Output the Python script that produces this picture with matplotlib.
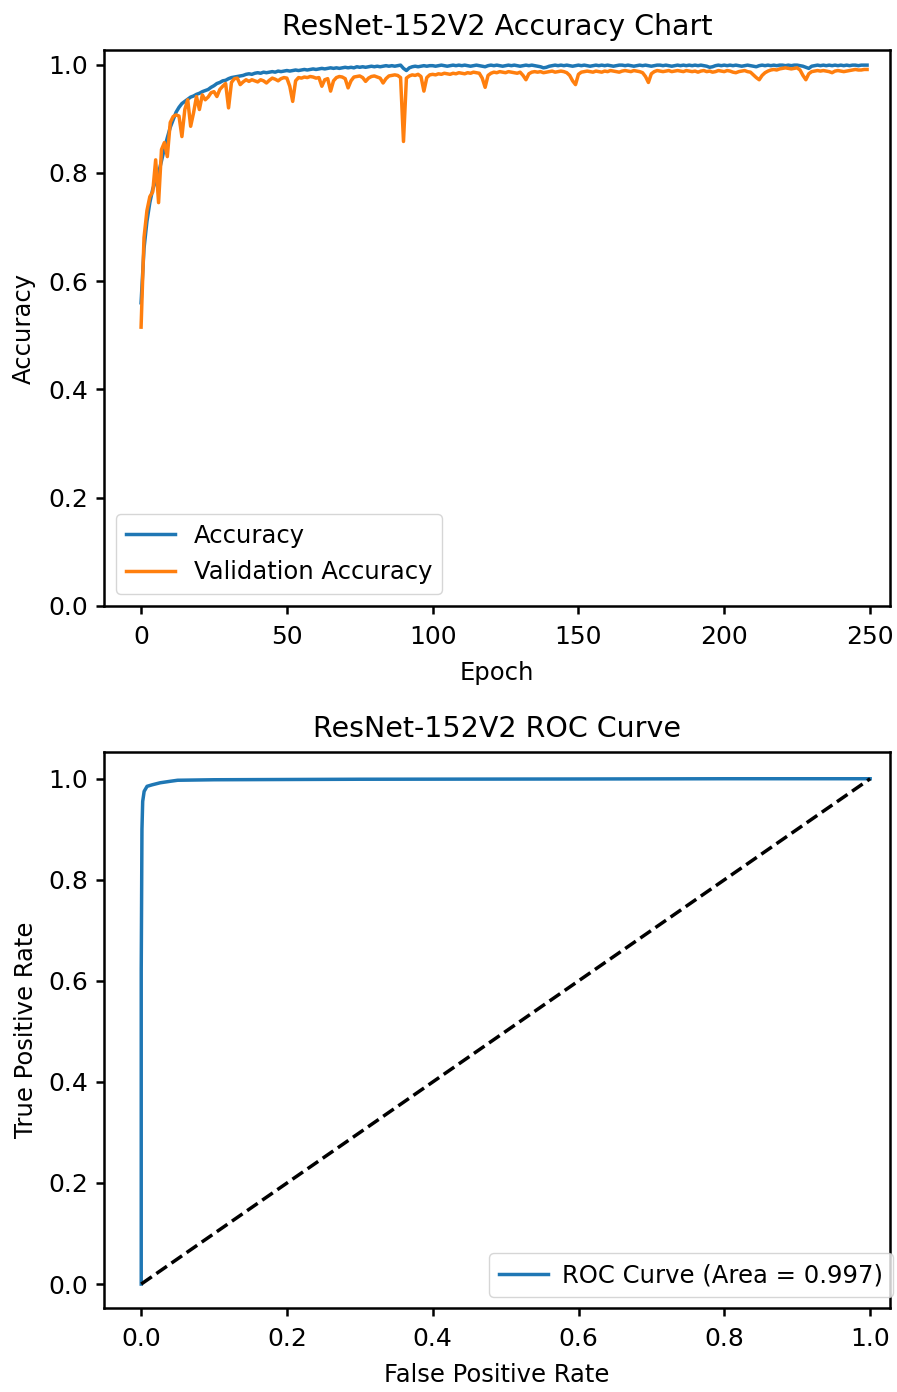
import numpy as np
import matplotlib
matplotlib.use('Agg')
import matplotlib.pyplot as plt

# training history (250 epochs)
accuracy = [
    0.560, 0.660, 0.710, 0.745, 0.770, 0.785, 0.800, 0.822, 0.845, 0.865,
    0.884, 0.898, 0.912, 0.921, 0.928, 0.932, 0.936, 0.940, 0.942, 0.945,
    0.947, 0.950, 0.952, 0.954, 0.958, 0.961, 0.965, 0.967, 0.970, 0.971,
    0.974, 0.976, 0.977, 0.978, 0.979, 0.980, 0.982, 0.983, 0.982, 0.984,
    0.985, 0.984, 0.986, 0.985, 0.986, 0.987, 0.986, 0.988, 0.987, 0.988,
    0.989, 0.988, 0.989, 0.990, 0.989, 0.990, 0.991, 0.990, 0.991, 0.992,
    0.991, 0.992, 0.993, 0.992, 0.993, 0.994, 0.993, 0.994, 0.993, 0.994,
    0.995, 0.994, 0.995, 0.994, 0.996, 0.995, 0.996, 0.995, 0.996, 0.997,
    0.996, 0.997, 0.996, 0.997, 0.998, 0.997, 0.998, 0.997, 0.998, 0.999,
    0.993, 0.989, 0.994, 0.996, 0.997, 0.996, 0.997, 0.998, 0.997, 0.998,
    0.998, 0.997, 0.998, 0.999, 0.998, 0.997, 0.998, 0.999, 0.998, 0.999,
    0.998, 0.999, 0.998, 0.997, 0.998, 0.999, 0.998, 0.997, 0.996, 0.998,
    0.999, 0.998, 0.999, 0.998, 0.997, 0.998, 0.999, 0.998, 0.999, 0.998,
    0.997, 0.998, 0.999, 0.998, 0.999, 0.998, 0.997, 0.996, 0.994, 0.995,
    0.997, 0.998, 0.999, 0.998, 0.999, 0.998, 0.999, 0.998, 0.997, 0.998,
    0.999, 0.998, 0.999, 0.998, 0.997, 0.998, 0.999, 0.998, 0.999, 0.998,
    0.999, 0.998, 0.997, 0.998, 0.999, 0.999, 0.998, 0.999, 0.998, 0.997,
    0.998, 0.999, 0.998, 0.999, 0.998, 0.997, 0.998, 0.999, 0.999, 0.998,
    0.999, 0.998, 0.997, 0.998, 0.999, 0.998, 0.999, 0.998, 0.999, 0.998,
    0.999, 0.998, 0.999, 0.998, 0.997, 0.995, 0.996, 0.998, 0.999, 0.998,
    0.999, 0.998, 0.999, 0.998, 0.999, 0.998, 0.997, 0.998, 0.999, 0.998,
    0.997, 0.996, 0.998, 0.999, 0.998, 0.999, 0.998, 0.999, 0.998, 0.999,
    0.999, 0.998, 0.999, 0.998, 0.999, 0.999, 0.998, 0.997, 0.995, 0.993,
    0.997, 0.998, 0.999, 0.998, 0.999, 0.998, 0.999, 0.998, 0.999, 0.998,
    0.999, 0.998, 0.999, 0.998, 0.999, 0.999, 0.998, 0.999, 0.999, 0.999,
]

val_accuracy = [
    0.515, 0.680, 0.730, 0.756, 0.765, 0.824, 0.745, 0.843, 0.856, 0.830,
    0.893, 0.904, 0.907, 0.905, 0.867, 0.917, 0.935, 0.886, 0.911, 0.941,
    0.917, 0.944, 0.935, 0.940, 0.948, 0.950, 0.941, 0.954, 0.960, 0.965,
    0.920, 0.967, 0.974, 0.975, 0.963, 0.968, 0.972, 0.969, 0.972, 0.970,
    0.968, 0.972, 0.970, 0.966, 0.971, 0.975, 0.973, 0.970, 0.974, 0.976,
    0.975, 0.960, 0.932, 0.970, 0.976, 0.975, 0.977, 0.976, 0.978, 0.977,
    0.975, 0.976, 0.960, 0.972, 0.974, 0.951, 0.970, 0.976, 0.978, 0.977,
    0.974, 0.957, 0.970, 0.977, 0.978, 0.979, 0.976, 0.969, 0.975, 0.978,
    0.979, 0.977, 0.975, 0.966, 0.974, 0.979, 0.980, 0.981, 0.980, 0.976,
    0.858, 0.975, 0.979, 0.981, 0.980, 0.982, 0.978, 0.951, 0.976, 0.981,
    0.982, 0.981, 0.983, 0.982, 0.984, 0.983, 0.982, 0.984, 0.983, 0.985,
    0.984, 0.983, 0.985, 0.984, 0.986, 0.985, 0.984, 0.975, 0.958, 0.980,
    0.984, 0.986, 0.985, 0.987, 0.986, 0.985, 0.987, 0.986, 0.985, 0.984,
    0.986, 0.980, 0.972, 0.983, 0.986, 0.987, 0.986, 0.987, 0.985, 0.986,
    0.987, 0.988, 0.986, 0.987, 0.988, 0.987, 0.985, 0.980, 0.970, 0.963,
    0.982, 0.986, 0.987, 0.988, 0.987, 0.986, 0.988, 0.987, 0.986, 0.988,
    0.987, 0.989, 0.988, 0.987, 0.986, 0.988, 0.989, 0.988, 0.987, 0.989,
    0.988, 0.987, 0.985, 0.978, 0.967, 0.983, 0.987, 0.989, 0.988, 0.987,
    0.988, 0.989, 0.987, 0.988, 0.989, 0.988, 0.987, 0.989, 0.988, 0.987,
    0.988, 0.986, 0.988, 0.989, 0.987, 0.988, 0.986, 0.987, 0.989, 0.988,
    0.987, 0.989, 0.988, 0.986, 0.985, 0.987, 0.988, 0.989, 0.987, 0.986,
    0.981, 0.976, 0.972, 0.980, 0.985, 0.988, 0.990, 0.991, 0.990, 0.992,
    0.993, 0.994, 0.993, 0.992, 0.993, 0.994, 0.990, 0.980, 0.972, 0.983,
    0.987, 0.988, 0.989, 0.988, 0.989, 0.988, 0.987, 0.985, 0.988, 0.989,
    0.988, 0.987, 0.988, 0.989, 0.990, 0.991, 0.990, 0.990, 0.991, 0.991,
]

# ROC points
fpr = [0.0, 0.0, 0.001, 0.002, 0.004, 0.008, 0.015, 0.026, 0.04, 0.05, 0.1, 0.3, 0.6, 0.8, 1.0]
tpr = [0.0, 0.62, 0.90, 0.955, 0.975, 0.985, 0.988, 0.992, 0.995, 0.997, 0.998, 0.999, 0.9995, 1.0, 1.0]
roc_auc = 0.997

epochs = np.arange(len(accuracy))

plt.rcParams['font.family'] = 'DejaVu Sans'
plt.rcParams['font.size'] = 17.5
plt.rcParams['xtick.labelsize'] = 18
plt.rcParams['ytick.labelsize'] = 18
plt.rcParams['axes.linewidth'] = 1.8
plt.rcParams['xtick.major.width'] = 1.8
plt.rcParams['ytick.major.width'] = 1.8
plt.rcParams['xtick.major.size'] = 5.5
plt.rcParams['ytick.major.size'] = 5.5
plt.rcParams['xtick.major.pad'] = 8
plt.rcParams['ytick.major.pad'] = 6
plt.rcParams['axes.titlepad'] = 11

fig = plt.figure(figsize=(8.97, 13.92), dpi=100)

ax1 = fig.add_axes([0.116, 0.5647, 0.876, 0.3994])
ax1.plot(epochs, accuracy, color='#1f77b4', lw=2.5, label='Accuracy')
ax1.plot(epochs, val_accuracy, color='#ff7f0e', lw=2.5, label='Validation Accuracy')
ax1.set_xlim(-12.7, 256.8)
ax1.set_ylim(0, 1.027)
ax1.set_title('ResNet-152V2 Accuracy Chart', fontsize=20.5)
ax1.set_xlabel('Epoch', labelpad=9)
ax1.set_ylabel('Accuracy', labelpad=9)
ax1.legend(loc='lower left')

ax2 = fig.add_axes([0.116, 0.0603, 0.876, 0.3995])
ax2.plot(fpr, tpr, color='#1f77b4', lw=2.5, label='ROC Curve (Area = %0.3f)' % roc_auc)
ax2.plot([0, 1], [0, 1], 'k--', lw=2.5)
ax2.set_xlim(-0.051, 1.027)
ax2.set_ylim(-0.0475, 1.053)
ax2.set_title('ResNet-152V2 ROC Curve', fontsize=20.5)
ax2.set_xlabel('False Positive Rate', labelpad=9)
ax2.set_ylabel('True Positive Rate', labelpad=7)
ax2.legend(loc='lower right', bbox_to_anchor=(1.004, 0.02), borderaxespad=0,
           handletextpad=0.6)

fig.savefig('out.png', dpi=100)
